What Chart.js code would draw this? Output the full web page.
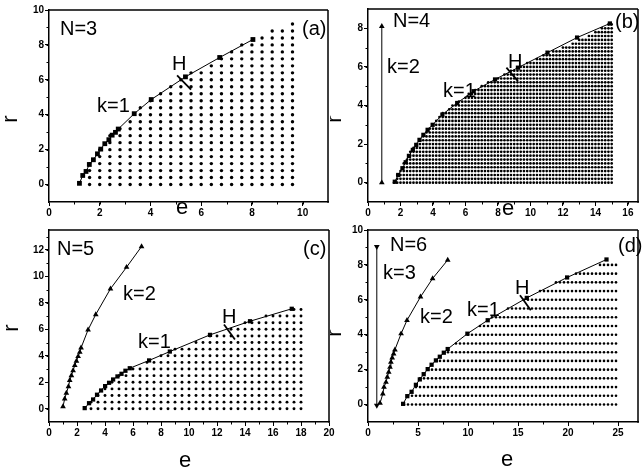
<!DOCTYPE html>
<html><head><meta charset="utf-8">
<script src="https://cdn.jsdelivr.net/npm/chart.js@4"></script>
<style>
html,body{margin:0;padding:0;background:#fff;}
#wrap{position:relative;width:642px;height:472px;overflow:hidden;background:#fff;}
canvas{position:absolute;left:0;top:0;}
</style></head><body>
<div id="wrap">
<canvas id="ca" width="642" height="472"></canvas>
<canvas id="cb" width="642" height="472"></canvas>
<canvas id="cc" width="642" height="472"></canvas>
<canvas id="cd" width="642" height="472"></canvas>
</div>
<script>
// ---------- Panel (a) N=3 ----------
const aXTicks = [0, 2, 4, 6, 8, 10];
const aYTicks = [0, 2, 4, 6, 8, 10];
const aK1 = [[1.2,0.07],[1.33,0.52],[1.46,0.75],[1.59,1.15],[1.75,1.42],[1.91,1.76],[2.04,2.03],[2.2,2.34],[2.36,2.57],[2.49,2.83],[2.62,2.99],[2.73,3.18],[3.36,4.06],[4.03,4.87],[5.38,6.17],[6.73,7.28],[8.04,8.31]];
const aRows = [0,0.4,0.8,1.2,1.6,2.0,2.4,2.8,3.2,3.6,4.0,4.4,4.8,5.2,5.6,6.0,6.4,6.8,7.2,7.6,8.0,8.4,8.8,9.2];
const aCols = [1.6,2.0,2.4,2.8,3.2,3.6,4.0,4.4,4.8,5.2,5.6,6.0,6.4,6.8,7.2,7.6,8.0,8.4,8.8,9.2,9.6];
const aRowStart = [1.6,1.6,1.6,1.6,2.0,2.0,2.4,2.4,2.8,3.2,3.6,3.6,4.0,4.4,4.8,5.2,5.6,6.4,6.8,7.2,7.6,8.4,8.8,9.6];
const aH = [[5.05,6.26],[5.6,5.44]];

// ---------- Panel (b) N=4 ----------
const bXTicks = [0, 2, 4, 6, 8, 10, 12, 14, 16];
const bYTicks = [0, 2, 4, 6, 8];
const bK1 = [[1.65,0.05],[1.86,0.4],[2.12,0.75],[2.32,1.06],[2.52,1.39],[2.76,1.7],[2.97,1.96],[3.17,2.22],[3.41,2.48],[3.67,2.74],[3.98,3.0],[4.58,3.53],[5.49,4.13],[6.5,4.74],[7.82,5.35],[9.23,5.96],[11.05,6.74],[12.87,7.52],[14.89,8.25]];
const bK2 = [[0.85,0.0],[0.85,8.1]];
const bRows = [0,0.2,0.4,0.6,0.8,1.0,1.2,1.4,1.6,1.8,2.0,2.2,2.4,2.6,2.8,3.0,3.2,3.4,3.6,3.8,4.0,4.2,4.4,4.6,4.8,5.0,5.2,5.4,5.6,5.8,6.0,6.2,6.4,6.6,6.8,7.0,7.2,7.4,7.6,7.8,8.0,8.2];
const bCols = [1.6,1.8,2.0,2.2,2.4,2.6,2.8,3.0,3.2,3.4,3.6,3.8,4.0,4.2,4.4,4.6,4.8,5.0,5.2,5.4,5.6,5.8,6.0,6.2,6.4,6.6,6.8,7.0,7.2,7.4,7.6,7.8,8.0,8.2,8.4,8.6,8.8,9.0,9.2,9.4,9.6,9.8,10.0,10.2,10.4,10.6,10.8,11.0,11.2,11.4,11.6,11.8,12.0,12.2,12.4,12.6,12.8,13.0,13.2,13.4,13.6,13.8,14.0,14.2,14.4,14.6,14.8,15.0];
const bRowStart = [1.6,1.8,1.8,2.0,2.2,2.2,2.4,2.6,2.6,2.8,3.0,3.2,3.4,3.6,3.8,4.0,4.2,4.4,4.6,5.0,5.2,5.6,6.0,6.2,6.6,7.0,7.4,8.0,8.4,8.8,9.4,9.8,10.4,10.8,11.4,12.0,12.6,13.0,13.6,14.0,14.4,14.8];
const bH = [[8.52,5.96],[9.23,5.26]];

// ---------- Panel (c) N=5 ----------
const cXTicks = [0, 2, 4, 6, 8, 10, 12, 14, 16, 18, 20];
const cYTicks = [0, 2, 4, 6, 8, 10, 12];
const cK1 = [[2.55,0.05],[2.86,0.42],[3.15,0.7],[3.43,1.06],[3.72,1.38],[4.01,1.71],[4.29,1.96],[4.58,2.21],[4.89,2.44],[5.18,2.64],[5.46,2.87],[5.77,3.06],[7.15,3.65],[8.63,4.32],[11.5,5.58],[14.36,6.61],[17.34,7.55]];
const cK2 = [[1.0,0.17],[1.12,0.75],[1.24,1.18],[1.39,1.68],[1.48,2.14],[1.6,2.51],[1.72,2.89],[1.84,3.27],[1.96,3.6],[2.08,3.95],[2.2,4.27],[2.29,4.6],[2.79,5.96],[3.34,7.12],[4.39,9.06],[5.54,10.69],[6.61,12.25]];
const cRows = [0,0.5,1.0,1.5,2.0,2.5,3.0,3.5,4.0,4.5,5.0,5.5,6.0,6.5,7.0,7.5];
const cCols = [3.0,3.5,4.0,4.5,5.0,5.5,6.0,6.5,7.0,7.5,8.0,8.5,9.0,9.5,10.0,10.5,11.0,11.5,12.0,12.5,13.0,13.5,14.0,14.5,15.0,15.5,16.0,16.5,17.0,17.5,18.0];
const cRowStart = [3.0,3.0,3.5,4.0,4.5,5.0,6.0,7.0,8.0,9.0,10.5,11.5,13.0,14.0,15.5,17.5];
const cH = [[12.5,6.36],[13.28,5.23]];

// ---------- Panel (d) N=6 ----------
const dXTicks = [0, 5, 10, 15, 20, 25];
const dYTicks = [0, 2, 4, 6, 8, 10];
const dK1 = [[3.51,0.04],[3.93,0.48],[4.36,0.73],[4.79,1.13],[5.18,1.44],[5.57,1.74],[5.97,2.03],[6.36,2.28],[6.79,2.53],[7.18,2.74],[7.58,2.97],[7.97,3.18],[9.94,4.06],[11.97,4.83],[15.88,6.11],[19.91,7.28],[23.85,8.31]];
const dK2 = [[1.2,0.08],[1.48,0.61],[1.6,1.0],[1.8,1.28],[1.93,1.57],[2.07,1.86],[2.2,2.14],[2.29,2.43],[2.42,2.68],[2.56,2.91],[2.69,3.14],[3.31,4.06],[3.9,4.83],[5.25,6.17],[6.46,7.22],[7.97,8.28]];
const dK3 = [[0.88,-0.05],[0.88,9.05]];
const dRows = [0,0.5,1.0,1.5,2.0,2.5,3.0,3.5,4.0,4.5,5.0,5.5,6.0,6.5,7.0,7.5,8.0];
const dCols = [3.6,4.0,4.4,4.8,5.2,5.6,6.0,6.4,6.8,7.2,7.6,8.0,8.4,8.8,9.2,9.6,10.0,10.4,10.8,11.2,11.6,12.0,12.4,12.8,13.2,13.6,14.0,14.4,14.8,15.2,15.6,16.0,16.4,16.8,17.2,17.6,18.0,18.4,18.8,19.2,19.6,20.0,20.4,20.8,21.2,21.6,22.0,22.4,22.8,23.2,23.6,24.0,24.4,24.8];
const dRowStart = [3.6,4.0,4.8,5.2,6.0,6.8,7.6,8.8,10.0,11.2,12.4,14.0,15.6,17.2,18.8,20.8,23.2];
const dH = [[15.2,6.26],[16.28,5.4]];

// ---------- helpers ----------
const FONT = '"Liberation Sans", Arial, Helvetica, sans-serif';
const YW = 30, XH = 16;
const pts = a => a.map(p => ({x: p[0], y: p[1]}));
function lattice(rows, cols, starts) {
  const out = [];
  rows.forEach((r, i) => cols.forEach(c => { if (c >= starts[i] - 1e-6) out.push({x: c, y: r}); }));
  return out;
}
function lineSet(data, style, radius, rot) {
  return {data: pts(data), showLine: true, borderColor: '#000', borderWidth: 1, backgroundColor: '#000',
    pointStyle: style, pointRadius: radius, pointBorderWidth: 0, pointRotation: rot || 0, pointBackgroundColor: '#000'};
}
function hSet(data) {
  return {data: pts(data), showLine: true, borderColor: '#000', borderWidth: 1.8, pointRadius: 0};
}
function gridSet(data, radius) {
  return {data: data, showLine: false, pointStyle: 'circle', pointRadius: radius, pointBorderWidth: 0, pointBackgroundColor: '#000', backgroundColor: '#000'};
}

const decor = {
  id: 'decor',
  afterDraw(chart, args, o) {
    const ctx = chart.ctx, ca = chart.chartArea, xs = chart.scales.x, ys = chart.scales.y;
    ctx.save();
    ctx.strokeStyle = '#000'; ctx.fillStyle = '#000';
    ctx.lineWidth = 1.5;
    ctx.beginPath();
    ctx.moveTo(ca.left - 0.75, ca.top); ctx.lineTo(ca.right, ca.top);
    if (ca.right < chart.width - 1) { ctx.moveTo(ca.right, ca.top); ctx.lineTo(ca.right, ca.bottom + 0.75); }
    ctx.stroke();
    ctx.lineWidth = 1;
    ctx.beginPath();
    for (let v = xs.min; v <= xs.max + 1e-9; v += o.xMinor) {
      const px = Math.round(xs.getPixelForValue(v)) + 0.5;
      if (px < ca.left + 1 || px > ca.right - 1) continue;
      ctx.moveTo(px, ca.bottom); ctx.lineTo(px, ca.bottom + 2.5);
    }
    for (let v = Math.ceil(ys.min); v <= ys.max + 1e-9; v += o.yMinor) {
      const py = Math.round(ys.getPixelForValue(v)) + 0.5;
      if (py > ca.bottom - 1 || py < ca.top + 1) continue;
      ctx.moveTo(ca.left, py); ctx.lineTo(ca.left - 2.5, py);
    }
    ctx.stroke();
    o.texts.forEach(t => {
      ctx.save();
      if (t.clipX !== undefined) { ctx.beginPath(); ctx.rect(t.clipX, 0, 2000, 2000); ctx.clip(); }
      ctx.font = (t.size || 20) + 'px ' + FONT;
      ctx.textAlign = t.align || 'left';
      ctx.textBaseline = 'alphabetic';
      ctx.translate(t.x, t.y);
      if (t.rot) ctx.rotate(t.rot);
      ctx.fillText(t.t, 0, 0);
      ctx.restore();
    });
    ctx.restore();
  }
};

function axis(min, max, ticks, isX) {
  return {
    type: 'linear', min: min, max: max,
    afterFit: s => { if (isX) s.height = XH; else s.width = YW; },
    afterBuildTicks: s => { s.ticks = ticks.map(v => ({value: v})); },
    ticks: {font: {family: FONT, size: 10, weight: 'bold'}, color: '#000', padding: 1, maxRotation: 0, autoSkip: false, includeBounds: false},
    grid: {drawOnChartArea: false, drawTicks: true, tickLength: 4, color: '#000', lineWidth: 1},
    border: {display: true, color: '#000', width: 1.5}
  };
}

// plot box: [left, top, right, bottom] in page pixels
function panel(id, box, xr, yr, datasets, dec) {
  const pad = {left: box[0] - YW, top: box[1], right: 642 - box[2], bottom: 472 - box[3] - XH};
  new Chart(document.getElementById(id), {
    type: 'scatter',
    data: {datasets: datasets},
    options: {
      responsive: false, animation: false, devicePixelRatio: 1,
      layout: {padding: pad},
      plugins: {legend: {display: false}, tooltip: {enabled: false}, decor: dec},
      scales: {x: axis(xr[0], xr[1], xr[2], true), y: axis(yr[0], yr[1], yr[2], false)}
    },
    plugins: [decor]
  });
}

const R = -Math.PI / 2;

panel('ca', [49, 10, 328, 202], [0, 11, aXTicks], [-1, 10, aYTicks],
  [hSet(aH), lineSet(aK1, 'rect', 3.4), gridSet(lattice(aRows, aCols, aRowStart), 1.7)],
  {xMinor: 1, yMinor: 1, texts: [
    {t: 'N=3', x: 60, y: 35}, {t: '(a)', x: 302, y: 35}, {t: 'k=1', x: 97, y: 112}, {t: 'H', x: 172, y: 70},
    {t: 'e', x: 182, y: 214, size: 22, align: 'center'}, {t: 'r', x: 17, y: 119, size: 22, align: 'center', rot: R}
  ]});

panel('cb', [368, 9, 642, 202], [0, 16.62, bXTicks], [-1, 9, bYTicks],
  [hSet(bH), lineSet(bK2, 'triangle', 3.3), lineSet(bK1, 'rect', 3.0), gridSet(lattice(bRows, bCols, bRowStart), 1.35)],
  {xMinor: 1, yMinor: 1, texts: [
    {t: 'N=4', x: 393, y: 27}, {t: '(b)', x: 615, y: 28}, {t: 'k=2', x: 387, y: 73}, {t: 'k=1', x: 443, y: 97}, {t: 'H', x: 508, y: 68},
    {t: 'e', x: 508, y: 215, size: 22, align: 'center'}, {t: 'r', x: 341, y: 119, size: 22, align: 'center', rot: R, clipX: 330}
  ]});

panel('cc', [49, 230, 329, 422], [0, 20, cXTicks], [-1, 13.5, cYTicks],
  [hSet(cH), lineSet(cK2, 'triangle', 3.3), lineSet(cK1, 'rect', 3.0), gridSet(lattice(cRows, cCols, cRowStart), 1.45)],
  {xMinor: 1, yMinor: 1, texts: [
    {t: 'N=5', x: 57, y: 255}, {t: '(c)', x: 303, y: 255}, {t: 'k=2', x: 123, y: 300}, {t: 'k=1', x: 138, y: 348}, {t: 'H', x: 222, y: 323},
    {t: 'e', x: 185, y: 467, size: 22, align: 'center'}, {t: 'r', x: 18, y: 328, size: 22, align: 'center', rot: R}
  ]});

panel('cd', [368, 230, 642, 422], [0, 27, dXTicks], [-1, 10, dYTicks],
  [hSet(dH), lineSet(dK3, 'triangle', 3.3, 180), lineSet(dK2, 'triangle', 3.3), lineSet(dK1, 'rect', 3.0), gridSet(lattice(dRows, dCols, dRowStart), 1.3)],
  {xMinor: 2.5, yMinor: 1, texts: [
    {t: 'N=6', x: 390, y: 251}, {t: '(d)', x: 618, y: 252}, {t: 'k=3', x: 383, y: 279}, {t: 'k=2', x: 420, y: 323}, {t: 'k=1', x: 467, y: 316}, {t: 'H', x: 515, y: 294},
    {t: 'e', x: 507, y: 466, size: 22, align: 'center'}, {t: 'r', x: 341, y: 333, size: 22, align: 'center', rot: R, clipX: 330}
  ]});
</script>
</body></html>
